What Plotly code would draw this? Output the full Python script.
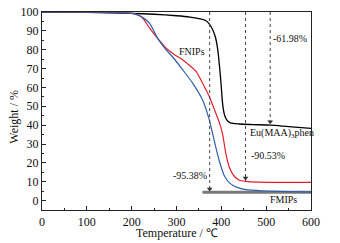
import plotly.graph_objects as go

# Eu(MAA)3phen (black)
t_eu = [0, 100, 200, 250, 300, 330, 350, 365, 372, 381, 387, 392, 396, 399, 403, 407, 412, 420, 440, 470, 510, 550, 600]
w_eu = [100, 99.8, 99.3, 98.8, 98.0, 97.3, 96.5, 95.5, 94.0, 90.5, 86.5, 80, 71, 63, 51, 45.5, 42.8, 41.2, 40.6, 40.3, 40.0, 39.2, 38.3]

# FNIPs (red)
t_fn = [0, 100, 180, 200, 215, 225, 240, 258, 277, 295, 314, 330, 344, 358, 373, 385, 396, 403, 410, 418, 429, 440, 455, 480, 520, 600]
w_fn = [100, 99.9, 99.6, 99.3, 98.3, 96.7, 91.5, 86, 80.8, 77.5, 74.6, 71.5, 68.4, 62.3, 55.2, 48, 41.1, 35, 25, 17.5, 12.9, 10.8, 10.2, 9.8, 9.7, 9.7]

# FMIPs (blue)
t_fm = [0, 100, 200, 220, 240, 258, 275, 292, 314, 336, 358, 373, 382, 390, 398, 407, 418, 435, 455, 490, 529, 600]
w_fm = [100, 99.9, 99.4, 97.8, 94, 86, 80.5, 76, 69.3, 62.3, 53.4, 42.9, 34, 26, 19, 13, 9.4, 7, 5.8, 5.2, 4.9, 4.5]

# Dotted guide lines (temperature, lower end weight)
guide_t = [374, 454, 509]
guide_w = [4.4, 10.2, 40.0]

# Baseline bar
bar_t = [358, 600]
bar_w = [4.4, 4.4]

# Text labels
label_text = ["FNIPs", "-61.98%", "Eu(MAA)<sub>3</sub>phen", "-90.53%", "-95.38%", "FMIPs"]
label_t = [334, 511, 459, 462, 372, 539]
label_w = [78.8, 85.7, 35.4, 23.8, 13.2, 0.8]
label_anchor = ["center", "left", "left", "left", "right", "center"]

x_title = "Temperature / ℃"
y_title = "Weight / %"

FONT = "Times New Roman"

fig = go.Figure()

fig.add_trace(go.Scatter(x=bar_t, y=bar_w, mode="lines",
                         line=dict(color="#7a7a7a", width=3), hoverinfo="skip"))
fig.add_trace(go.Scatter(x=t_eu, y=w_eu, mode="lines", line=dict(color="#000000", width=1.3, shape="spline", smoothing=0.6)))
fig.add_trace(go.Scatter(x=t_fn, y=w_fn, mode="lines", line=dict(color="#e0202e", width=1.2, shape="spline", smoothing=0.6)))
fig.add_trace(go.Scatter(x=t_fm, y=w_fm, mode="lines", line=dict(color="#2f5fa8", width=1.2, shape="spline", smoothing=0.6)))

for gt, gw in zip(guide_t, guide_w):
    fig.add_shape(type="line", x0=gt, x1=gt, y0=100, y1=gw, xref="x", yref="y",
                  line=dict(color="#444444", width=1, dash="dot"))

fig.add_trace(go.Scatter(x=guide_t, y=[w + 1.8 for w in guide_w], mode="markers",
                         marker=dict(symbol="triangle-down", size=5, color="#333333")))

for txt, lt, lw, an in zip(label_text, label_t, label_w, label_anchor):
    fig.add_annotation(x=lt, y=lw, text=txt, showarrow=False, xanchor=an, yanchor="middle",
                       font=dict(family=FONT, size=10, color="#111111"))

fig.add_annotation(x=0.5, y=-0.118, xref="paper", yref="paper", text=x_title, showarrow=False,
                   xanchor="center", yanchor="middle", font=dict(family=FONT, size=12, color="#111111"))
fig.add_annotation(x=-0.105, y=0.47, xref="paper", yref="paper", text=y_title, showarrow=False,
                   textangle=-90, xanchor="center", yanchor="middle", font=dict(family=FONT, size=12, color="#111111"))

fig.update_layout(
    width=340, height=243,
    margin=dict(l=42, r=29, t=12, b=33),
    paper_bgcolor="white", plot_bgcolor="white",
    showlegend=False,
    font=dict(family=FONT, size=12, color="#111111"),
)
fig.update_xaxes(range=[0, 600], tickvals=[0, 100, 200, 300, 400, 500, 600], automargin=False,
                 ticks="inside", ticklen=4, tickwidth=1, tickcolor="#222",
                 minor=dict(ticks="inside", ticklen=2, tickvals=[50, 150, 250, 350, 450, 550], tickcolor="#222"),
                 showline=True, linecolor="#222", linewidth=1.2, mirror=True, showgrid=False, zeroline=False,
                 tickfont=dict(family=FONT, size=12))
fig.update_yaxes(range=[-5, 100], tickvals=list(range(0, 101, 10)), automargin=False,
                 ticks="inside", ticklen=4, tickwidth=1, tickcolor="#222",
                 minor=dict(ticks="inside", ticklen=2, tickvals=list(range(5, 100, 10)), tickcolor="#222"),
                 showline=True, linecolor="#222", linewidth=1.2, mirror=True, showgrid=False, zeroline=False,
                 tickfont=dict(family=FONT, size=12))

fig.write_html("out.html", config={"displayModeBar": False},
               post_script="document.body.style.margin='0';")
